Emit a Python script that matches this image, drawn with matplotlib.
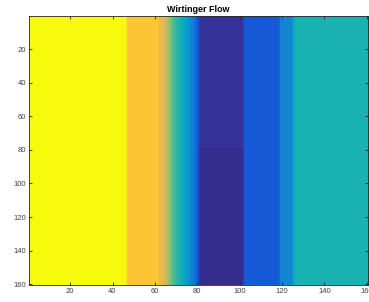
import numpy as np
import matplotlib
matplotlib.use('Agg')
import matplotlib.pyplot as plt
from matplotlib.colors import LinearSegmentedColormap

# MATLAB parula colormap (subset of anchors)
parula_rgb = [
    (0.2081, 0.1663, 0.5292), (0.2081, 0.2386, 0.6771), (0.1253, 0.3242, 0.8303),
    (0.0060, 0.4086, 0.8828), (0.0629, 0.4737, 0.8554), (0.0793, 0.5200, 0.8312),
    (0.0343, 0.5966, 0.8199), (0.0231, 0.6418, 0.7913), (0.0384, 0.6743, 0.7436),
    (0.1133, 0.7015, 0.6859), (0.2178, 0.7250, 0.6193), (0.3482, 0.7424, 0.5473),
    (0.4871, 0.7491, 0.4840), (0.6099, 0.7473, 0.4337), (0.7184, 0.7411, 0.3905),
    (0.8185, 0.7327, 0.3498), (0.9139, 0.7258, 0.3063), (0.9938, 0.7455, 0.2403),
    (0.9880, 0.8066, 0.1794), (0.9626, 0.8705, 0.1309), (0.9598, 0.9218, 0.0948),
    (0.9763, 0.9831, 0.0538),
]
parula = LinearSegmentedColormap.from_list('parula', parula_rgb)

# Column profile of the recovered signal (value per column band)
band_start = [1, 47, 62, 81, 102, 119, 125, 126]
band_end = [46, 61, 80, 101, 118, 124, 125, 160]
band_value = [1.0, 0.83, None, 0.025, 0.11, 0.24, 0.36, 0.42]
# transition columns 62..80
ramp_values = [0.77, 0.76, 0.74, 0.70, 0.64, 0.58, 0.53, 0.49, 0.46, 0.43,
               0.40, 0.37, 0.34, 0.30, 0.26, 0.23, 0.20, 0.16, 0.10]
# dark band is slightly darker in the lower half
dark_lower_rows = (79, 160)
dark_lower_value = 0.01

n = 160
profile = np.zeros(n)
for s, e, v in zip(band_start, band_end, band_value):
    if v is None:
        profile[s - 1:e] = ramp_values
    else:
        profile[s - 1:e] = v
img = np.tile(profile, (n, 1))
img[dark_lower_rows[0] - 1:dark_lower_rows[1], 80:101] = dark_lower_value

fig = plt.figure(figsize=(3.69, 3.02), dpi=100)
ax = fig.add_axes([0.078, 0.056, 0.919, 0.89])
ax.imshow(img, cmap=parula, vmin=0, vmax=1, aspect='auto',
          extent=[0.5, n + 0.5, n + 0.5, 0.5], interpolation='bilinear')

ticks = np.arange(20, 161, 20)
ax.set_xticks(ticks)
ax.set_yticks(ticks)
ax.tick_params(direction='in', length=2.5, width=0.6, labelsize=5.5,
               labelcolor='#404040', color='#262626', top=True, right=True, pad=2)
for sp in ax.spines.values():
    sp.set_linewidth(0.6)
    sp.set_color('#262626')
ax.set_title('Wirtinger Flow', fontsize=6.5, fontweight='bold',
             family='Liberation Sans', pad=3)
for lbl in ax.get_xticklabels() + ax.get_yticklabels():
    lbl.set_family('Liberation Sans')

fig.savefig('out.png', dpi=100)
